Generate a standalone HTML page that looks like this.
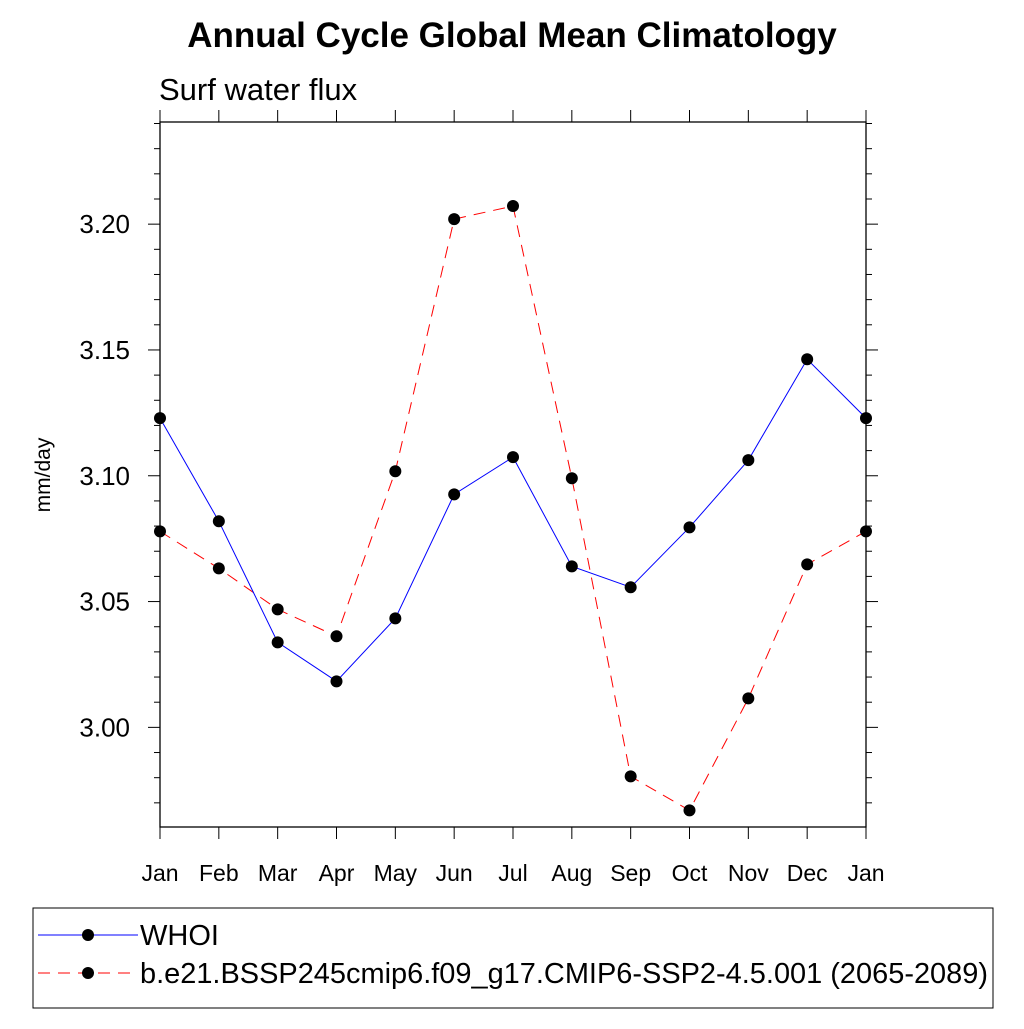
<!DOCTYPE html>
<html><head><meta charset="utf-8"><style>
body{margin:0;background:#fff;}
svg text{font-family:"Liberation Sans",sans-serif;}
</style></head><body>
<svg id="chart" width="1024" height="1024" xmlns="http://www.w3.org/2000/svg">
<text x="512" y="47" text-anchor="middle" font-size="35" font-weight="bold">Annual Cycle Global Mean Climatology</text>
<text x="159" y="100" font-size="31">Surf water flux</text>
<text transform="translate(50,475) rotate(-90)" text-anchor="middle" font-size="21">mm/day</text>
<rect x="160" y="122" width="706" height="705" fill="none" stroke="#000" stroke-width="1.3"/>
<g id="axes"></g>
<g id="series"></g>
<g>
<rect x="33" y="908" width="960" height="100" fill="none" stroke="#000" stroke-width="1"/>
<line x1="38" y1="935" x2="138" y2="935" stroke="#00f" stroke-width="1"/>
<circle cx="88" cy="935" r="6" fill="#000"/>
<text x="140" y="945" font-size="29">WHOI</text>
<line x1="38" y1="973" x2="138" y2="973" stroke="#f00" stroke-width="1" stroke-dasharray="12,8"/>
<circle cx="88" cy="973" r="6" fill="#000"/>
<text x="140" y="983" font-size="29" textLength="848" lengthAdjust="spacingAndGlyphs">b.e21.BSSP245cmip6.f09_g17.CMIP6-SSP2-4.5.001 (2065-2089)</text>
</g>
</svg>
<script>
const months=["Jan","Feb","Mar","Apr","May","Jun","Jul","Aug","Sep","Oct","Nov","Dec","Jan"];
const whoi=[3.1229,3.0819,3.0338,3.0183,3.0433,3.0926,3.1074,3.0640,3.0557,3.0795,3.1062,3.1463,3.1229];
const model=[3.0779,3.0632,3.0469,3.0362,3.1018,3.2020,3.2072,3.0990,2.9805,2.9670,3.0115,3.0648,3.0779];
const yTicks=[3.00,3.05,3.10,3.15,3.20];
const yMin=2.9604,yMax=3.2406;
const L=160,R=866,T=122,B=827;
const NS="http://www.w3.org/2000/svg";
function xs(i){return L+(R-L)*i/(months.length-1);}
function ys(v){return B-(v-yMin)/(yMax-yMin)*(B-T);}
function mk(t,a,p){const e=document.createElementNS(NS,t);for(const k in a)e.setAttribute(k,a[k]);p.appendChild(e);return e;}
const ax=document.getElementById('axes');
for(let v=Math.ceil(yMin*100);v<=Math.floor(yMax*100);v++){
 const y=ys(v/100);const maj=v%5===0;const len=maj?12:6;
 mk('line',{x1:L-len,y1:y,x2:L,y2:y,stroke:'#000','stroke-width':1},ax);
 mk('line',{x1:R,y1:y,x2:R+len,y2:y,stroke:'#000','stroke-width':1},ax);
}
yTicks.forEach(v=>{const t=mk('text',{x:L-30,y:ys(v)+9,'text-anchor':'end','font-size':26},ax);t.textContent=v.toFixed(2);

});
months.forEach((m,i)=>{const x=xs(i);
 mk('line',{x1:x,y1:B,x2:x,y2:B+12,stroke:'#000','stroke-width':1},ax);
 mk('line',{x1:x,y1:T-12,x2:x,y2:T,stroke:'#000','stroke-width':1},ax);
 const t=mk('text',{x:x,y:881,'text-anchor':'middle','font-size':23},ax);t.textContent=m;
 
 });
const sg=document.getElementById('series');
function draw(vals,color,dash,name){
 const pl=mk('polyline',{points:vals.map((v,i)=>xs(i)+','+ys(v)).join(' '),fill:'none',stroke:color,'stroke-width':1,'stroke-dasharray':dash},sg);
 
 
 vals.forEach((v,i)=>{const c=mk('circle',{cx:xs(i),cy:ys(v),r:6,fill:'#000'},sg);
 
 });
}
draw(model,'#f00','12,8','model');
draw(whoi,'#00f','none','whoi');
</script>
</body></html>
